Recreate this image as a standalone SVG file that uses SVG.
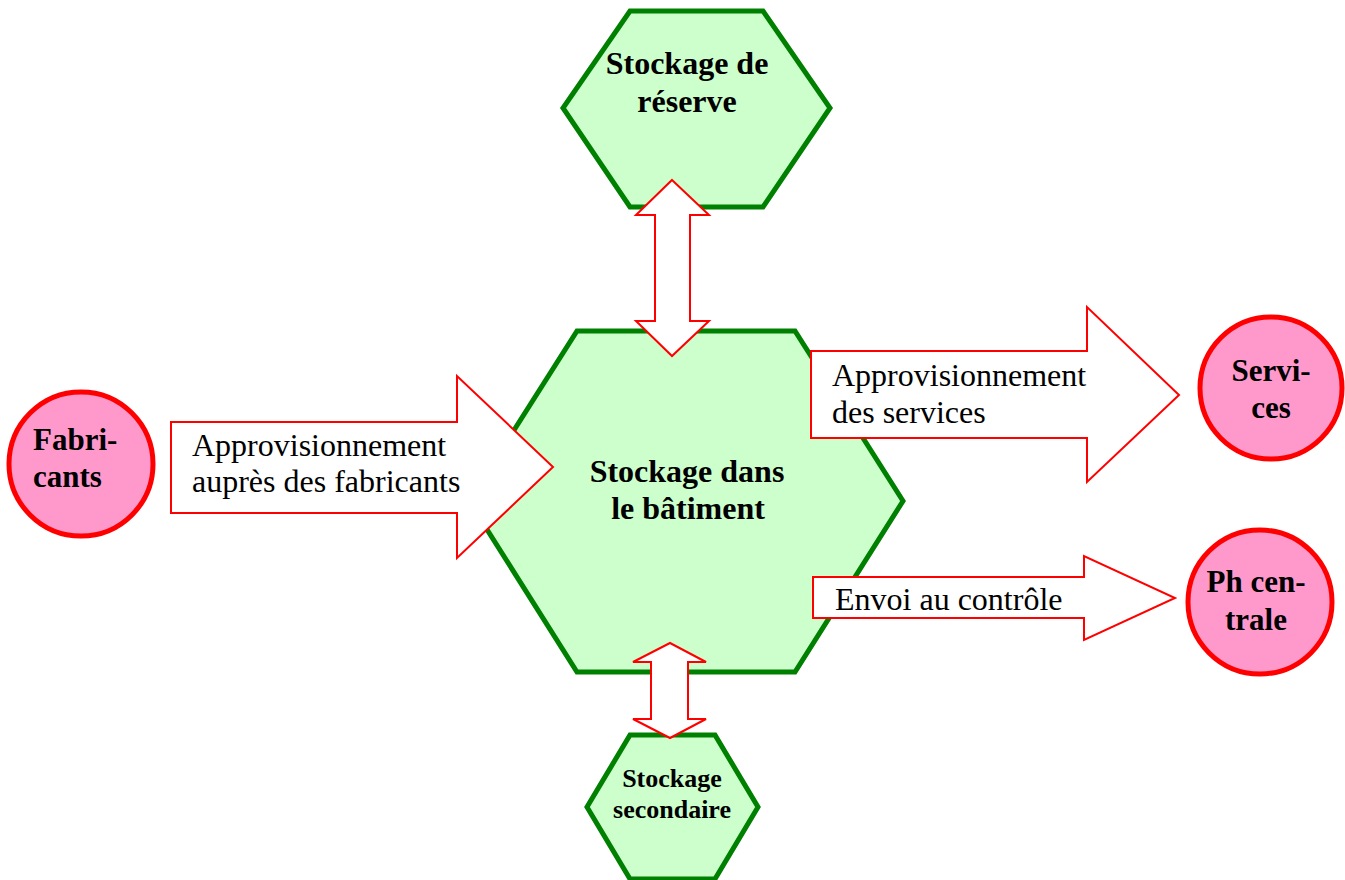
<svg xmlns="http://www.w3.org/2000/svg" width="1345" height="880" viewBox="0 0 1345 880">
<style>
.hex{fill:#ccffcc;stroke:#008000;stroke-width:5;stroke-linejoin:miter}
.circ{fill:#ff99cc;stroke:#ff0000;stroke-width:5}
.arr{fill:#ffffff;stroke:#ff0000;stroke-width:2;stroke-linejoin:miter}
.nt{font-family:"Liberation Serif","Times New Roman",serif;font-weight:bold;fill:#000}
.lt{font-family:"Liberation Serif","Times New Roman",serif;font-size:32px;fill:#000}
</style>
<rect width="1345" height="880" fill="#ffffff"/>
<g id="node-reserve">
<polygon class="hex" points="630,11 763,11 830,108 763,207 630,207 563,108"/>
<text class="nt" font-size="32" text-anchor="middle"><tspan x="687" y="74">Stockage de</tspan><tspan x="687" y="112">réserve</tspan></text>
</g>
<g id="node-batiment">
<polygon class="hex" points="577,331 795,331 903,501 795,672 577,672 469,501"/>
<text class="nt" font-size="32" text-anchor="middle"><tspan x="687" y="482">Stockage dans</tspan><tspan x="688" y="519">le bâtiment</tspan></text>
</g>
<g id="node-secondaire">
<polygon class="hex" points="630,735 715,735 758,807 715,879 630,879 587,807"/>
<text class="nt" font-size="26" text-anchor="middle"><tspan x="672" y="787">Stockage</tspan><tspan x="672" y="818">secondaire</tspan></text>
</g>
<g id="node-fabricants">
<circle class="circ" cx="81" cy="464" r="72"/>
<text class="nt" font-size="31"><tspan x="33" y="450">Fabri-</tspan><tspan x="33" y="487">cants</tspan></text>
</g>
<g id="node-services">
<circle class="circ" cx="1271" cy="388" r="71"/>
<text class="nt" font-size="31" text-anchor="middle"><tspan x="1271" y="381">Servi-</tspan><tspan x="1271" y="418">ces</tspan></text>
</g>
<g id="node-phcentrale">
<circle class="circ" cx="1260" cy="602" r="72"/>
<text class="nt" font-size="31" text-anchor="middle"><tspan x="1256" y="592">Ph cen-</tspan><tspan x="1256" y="630">trale</tspan></text>
</g>
<g id="connectors">
<g id="conn-fabricants">
<polygon class="arr" points="171,422 457,422 457,376 553,467 457,558 457,513 171,513"/>
<text class="lt"><tspan x="192" y="456">Approvisionnement</tspan><tspan x="192" y="492">auprès des fabricants</tspan></text>
</g>
<g id="conn-services">
<polygon class="arr" points="811,351 1087,351 1087,307 1179,395 1087,482 1087,438 811,438"/>
<text class="lt"><tspan x="832" y="386">Approvisionnement</tspan><tspan x="832" y="423">des services</tspan></text>
</g>
<g id="conn-controle">
<polygon class="arr" points="813,577 1084,577 1084,556 1175,598 1084,640 1084,618 813,618"/>
<text class="lt" x="835" y="610">Envoi au contrôle</text>
</g>
<polygon id="conn-reserve" class="arr" points="672,180 709,215 690,215 690,321 709,321 672,356 636,321 655,321 655,215 636,215"/>
<polygon id="conn-secondaire" class="arr" points="670,643 706,662 688,662 688,719 706,719 670,738 633,719 651,719 651,662 633,662"/>
</g>
</svg>
